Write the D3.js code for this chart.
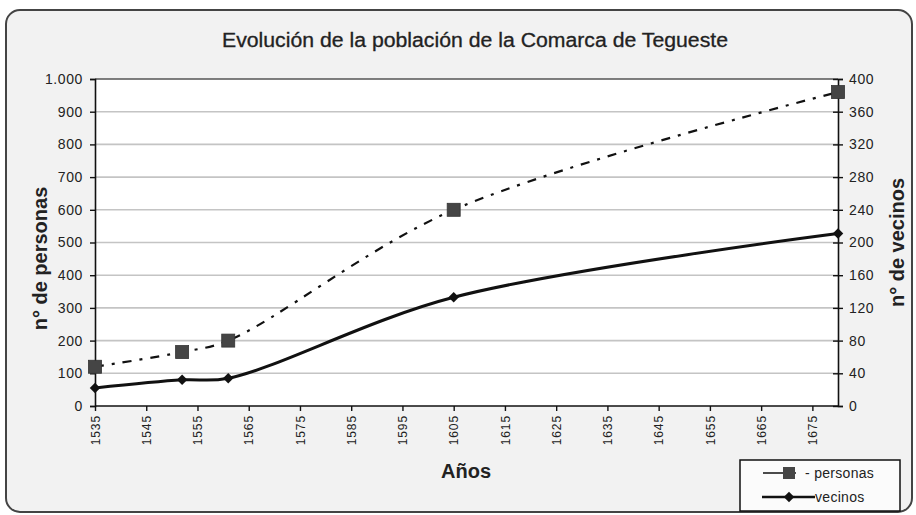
<!DOCTYPE html>
<html>
<head>
<meta charset="utf-8">
<script src="https://cdn.jsdelivr.net/npm/d3@7"></script>
<style>
  html, body { margin: 0; padding: 0; background: #ffffff; }
  svg { display: block; }
  text { font-family: "Liberation Sans", Arial, sans-serif; fill: #222; }
</style>
</head>
<body>
<svg id="chart" width="916" height="515"></svg>
<script>
// ---- data ----
const years = [1535, 1552, 1561, 1605, 1680];
const personas = [120, 165, 200, 600, 960];
const vecinos = [22, 32, 34, 133, 211];
const xTicks = [1535, 1545, 1555, 1565, 1575, 1585, 1595, 1605, 1615, 1625, 1635, 1645, 1655, 1665, 1675];
const leftTicks = [0, 100, 200, 300, 400, 500, 600, 700, 800, 900, 1000];
const rightTicks = [0, 40, 80, 120, 160, 200, 240, 280, 320, 360, 400];
const titleText = "Evolución de la población de la Comarca de Tegueste";
const xTitle = "Años";
const yLeftTitle = "n° de personas";
const yRightTitle = "n° de vecinos";
const legendLabels = ["- personas", "vecinos"];

// ---- layout ----
const W = 916, H = 515;
const plot = { left: 95, right: 838, top: 79, bottom: 406 };
const svg = d3.select("#chart");

const locale = d3.formatLocale({ decimal: ",", thousands: ".", grouping: [3], currency: ["", "€"] });
const fmt = locale.format(",");

const x = d3.scaleLinear().domain([1535, 1680]).range([plot.left, plot.right]);
const yL = d3.scaleLinear().domain([0, 1000]).range([plot.bottom, plot.top]);
const yR = d3.scaleLinear().domain([0, 400]).range([plot.bottom, plot.top]);

// outer frame
svg.append("rect").attr("x", 6).attr("y", 10).attr("width", 906).attr("height", 502)
  .attr("rx", 14).attr("ry", 14)
  .attr("fill", "#f2f2f2").attr("stroke", "#444").attr("stroke-width", 2);

// plot area
svg.append("rect").attr("x", plot.left).attr("y", plot.top)
  .attr("width", plot.right - plot.left).attr("height", plot.bottom - plot.top)
  .attr("fill", "#ffffff");

// gridlines
svg.append("g").selectAll("line").data(leftTicks.filter(d => d > 0 && d < 1000)).join("line")
  .attr("x1", plot.left).attr("x2", plot.right)
  .attr("y1", d => yL(d)).attr("y2", d => yL(d))
  .attr("stroke", "#c4c4c4").attr("stroke-width", 1.6);
svg.append("line").attr("x1", plot.left).attr("x2", plot.right)
  .attr("y1", plot.top).attr("y2", plot.top)
  .attr("stroke", "#555").attr("stroke-width", 1.5);

// title
svg.append("text").attr("x", 475).attr("y", 47).attr("text-anchor", "middle")
  .attr("font-size", 20).attr("textLength", 506).attr("lengthAdjust", "spacingAndGlyphs")
  .attr("stroke", "#222").attr("stroke-width", 0.3)
  .text(titleText);

// left axis
const gL = svg.append("g").attr("transform", `translate(${plot.left},0)`)
  .call(d3.axisLeft(yL).tickValues(leftTicks).tickFormat(fmt).tickSizeOuter(0).tickSize(5).tickPadding(7));
gL.select(".domain").attr("stroke", "#111").attr("stroke-width", 1.6);
gL.selectAll(".tick line").attr("stroke", "#111").attr("stroke-width", 1.4);
gL.selectAll(".tick text").attr("font-size", 14).attr("letter-spacing", 0.6)
  .attr("font-family", "Liberation Sans, Arial, sans-serif").attr("fill", "#222");

// right axis
const gR = svg.append("g").attr("transform", `translate(${plot.right},0)`)
  .call(d3.axisRight(yR).tickValues(rightTicks).tickSizeOuter(0).tickSize(5).tickPadding(6));
gR.select(".domain").attr("stroke", "#111").attr("stroke-width", 1.6);
gR.selectAll(".tick line").attr("stroke", "#111").attr("stroke-width", 1.4).attr("x1", -5);
gR.selectAll(".tick text").attr("font-size", 14).attr("letter-spacing", 0.6)
  .attr("font-family", "Liberation Sans, Arial, sans-serif").attr("fill", "#222");

// bottom axis
const gB = svg.append("g").attr("transform", `translate(0,${plot.bottom})`)
  .call(d3.axisBottom(x).tickValues(xTicks).tickFormat(d3.format("d")).tickSizeOuter(0).tickSize(5));
gB.select(".domain").attr("stroke", "#111").attr("stroke-width", 1.6)
  .attr("d", `M${plot.left},0H${plot.right}`);
gB.selectAll(".tick line").attr("stroke", "#111").attr("stroke-width", 1.4);
gB.selectAll(".tick text")
  .attr("font-size", 12).attr("letter-spacing", 0.9)
  .attr("font-family", "Liberation Sans, Arial, sans-serif").attr("fill", "#222")
  .attr("text-anchor", "end")
  .attr("transform", "rotate(-90)")
  .attr("x", -9).attr("y", 0).attr("dy", "0.35em");

// axis titles
svg.append("text").attr("x", 466).attr("y", 478).attr("text-anchor", "middle")
  .attr("font-size", 20).attr("font-weight", "bold").text(xTitle);
svg.append("text").attr("transform", `translate(47,${(plot.top + plot.bottom) / 2 + 16}) rotate(-90)`)
  .attr("text-anchor", "middle").attr("font-size", 20).attr("font-weight", "bold").text(yLeftTitle);
svg.append("text").attr("transform", `translate(904,${(plot.top + plot.bottom) / 2}) rotate(-90)`)
  .attr("text-anchor", "middle").attr("font-size", 20).attr("font-weight", "bold").text(yRightTitle);

// lines
const curve = d3.curveCatmullRom.alpha(0.5);
const lineP = d3.line().x((d, i) => x(years[i])).y(d => yL(d)).curve(curve);
const lineV = d3.line().x((d, i) => x(years[i])).y(d => yR(d)).curve(curve);

svg.append("path").attr("d", lineV(vecinos)).attr("fill", "none")
  .attr("stroke", "#111").attr("stroke-width", 3);
svg.append("path").attr("d", lineP(personas)).attr("fill", "none")
  .attr("stroke", "#111").attr("stroke-width", 2.2).attr("stroke-dasharray", "9,8,3,8");

// markers
const sqSize = 13;
svg.append("g").selectAll("rect").data(personas).join("rect")
  .attr("x", (d, i) => x(years[i]) - sqSize / 2).attr("y", d => yL(d) - sqSize / 2)
  .attr("width", sqSize).attr("height", sqSize)
  .attr("fill", "#454545").attr("stroke", "#333").attr("stroke-width", 0.8);
const diamond = d3.symbol().type(d3.symbolDiamond2).size(70);
svg.append("g").selectAll("path").data(vecinos).join("path")
  .attr("transform", (d, i) => `translate(${x(years[i])},${yR(d)})`)
  .attr("d", diamond).attr("fill", "#111");

// legend
const lg = svg.append("g");
lg.append("rect").attr("x", 740).attr("y", 460).attr("width", 160).attr("height", 51)
  .attr("fill", "#fbfbfb").attr("stroke", "#111").attr("stroke-width", 1.5);
lg.append("line").attr("x1", 763).attr("x2", 796).attr("y1", 473).attr("y2", 473)
  .attr("stroke", "#111").attr("stroke-width", 1.5);
lg.append("rect").attr("x", 783).attr("y", 467).attr("width", 12).attr("height", 12)
  .attr("fill", "#454545");
lg.append("text").attr("x", 805).attr("y", 478).attr("font-size", 14).attr("letter-spacing", 0.3)
  .text(legendLabels[0]);
lg.append("line").attr("x1", 762).attr("x2", 815).attr("y1", 497).attr("y2", 497)
  .attr("stroke", "#111").attr("stroke-width", 2.5);
lg.append("path").attr("transform", "translate(789,497)").attr("d", diamond).attr("fill", "#111");
lg.append("text").attr("x", 815).attr("y", 502).attr("font-size", 14).attr("letter-spacing", 0.3)
  .text(legendLabels[1]);
</script>
</body>
</html>
